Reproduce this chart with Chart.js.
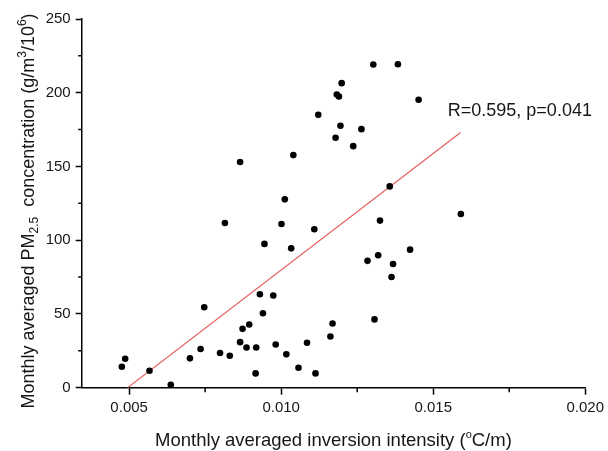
<!DOCTYPE html>
<html>
<head>
<meta charset="utf-8">
<script src="https://cdn.jsdelivr.net/npm/chart.js@4.4.1/dist/chart.umd.min.js"></script>
<style>
  html, body { margin: 0; padding: 0; background: #fff; }
  #wrap { width: 608px; height: 451px; }
</style>
</head>
<body>
<div id="wrap"><canvas id="c" width="608" height="451"></canvas></div>
<script>
// ---- data ----
const xValues = [0.00476, 0.00487, 0.00567, 0.00637, 0.00700, 0.00735, 0.00747, 0.00799, 0.00831, 0.00815,
                 0.00865, 0.00865, 0.00873, 0.00886, 0.00895, 0.00916, 0.00918, 0.00930, 0.00940, 0.00945,
                 0.00974, 0.00982, 0.01001, 0.01012, 0.01017, 0.01033, 0.01040, 0.01057, 0.01085, 0.01109,
                 0.01113, 0.01122, 0.01162, 0.01169, 0.01179, 0.01183, 0.01190, 0.01195, 0.01199, 0.01237,
                 0.01264, 0.01284, 0.01303, 0.01307, 0.01319, 0.01325, 0.01357, 0.01363, 0.01368, 0.01384,
                 0.01424, 0.01452, 0.01591];
const yValues = [14.2, 19.6, 11.5, 2.0, 19.9, 26.2, 54.6, 23.5, 21.7, 111.7,
                 153.0, 30.9, 39.9, 27.3, 42.9, 9.7, 27.3, 63.4, 50.5, 97.5,
                 62.5, 29.3, 111.0, 127.7, 22.6, 94.5, 157.7, 13.5, 30.5, 107.4,
                 9.7, 185.0, 34.7, 43.5, 169.5, 198.8, 197.4, 177.6, 206.5, 163.8,
                 175.3, 86.0, 219.1, 46.3, 89.8, 113.3, 136.5, 75.1, 83.9, 219.3,
                 93.6, 195.2, 117.8];
const fitX = [0.00495, 0.0159];
const fitY = [0, 173];
const xTickValues = [0.005, 0.010, 0.015, 0.020];
const xTickLabels = ['0.005', '0.010', '0.015', '0.020'];
const xMinorTicks = [0.0075, 0.0125, 0.0175];
const yTickValues = [0, 50, 100, 150, 200, 250];
const yTickLabels = ['0', '50', '100', '150', '200', '250'];
const yMinorTicks = [25, 75, 125, 175, 225];
const statText = 'R=0.595, p=0.041';
const statPos = { x: 0.01548, y: 184.2 };

const FONT = "'Liberation Sans', Arial, sans-serif";
const TXT = '#161616';

const points = xValues.map((x, i) => ({ x: x, y: yValues[i] }));
const fitLine = fitX.map((x, i) => ({ x: x, y: fitY[i] }));

function drawRich(ctx, segs, base) {
  let w = 0;
  segs.forEach(s => { ctx.font = (s.size || base) + 'px ' + FONT; s.w = ctx.measureText(s.t).width; w += s.w; });
  let x = -w / 2;
  segs.forEach(s => {
    ctx.font = (s.size || base) + 'px ' + FONT;
    ctx.fillText(s.t, x, s.dy || 0);
    x += s.w;
  });
}

const decor = {
  id: 'decor',
  afterDraw(chart) {
    const ctx = chart.ctx;
    const xs = chart.scales.x, ys = chart.scales.y;
    const area = chart.chartArea;
    ctx.save();
    // minor ticks
    ctx.strokeStyle = '#000';
    ctx.lineWidth = 1.5;
    ctx.beginPath();
    xMinorTicks.forEach(v => {
      const px = xs.getPixelForValue(v);
      ctx.moveTo(px, area.bottom);
      ctx.lineTo(px, area.bottom + 4.5);
    });
    yMinorTicks.forEach(v => {
      const py = ys.getPixelForValue(v);
      ctx.moveTo(area.left, py);
      ctx.lineTo(area.left - 3.5, py);
    });
    ctx.stroke();

    ctx.fillStyle = TXT;
    ctx.textBaseline = 'alphabetic';
    ctx.textAlign = 'left';
    // stat text
    ctx.font = '18px ' + FONT;
    ctx.fillText(statText, xs.getPixelForValue(statPos.x), ys.getPixelForValue(statPos.y));

    // x title
    ctx.save();
    ctx.translate((area.left + area.right) / 2, 445.5);
    drawRich(ctx, [
      { t: 'Monthly averaged inversion intensity (' },
      { t: 'o', size: 11, dy: -8 },
      { t: 'C/m)' }
    ], 18.5);
    ctx.restore();

    // y title
    ctx.save();
    ctx.translate(34, 211);
    ctx.rotate(-Math.PI / 2);
    drawRich(ctx, [
      { t: 'Monthly averaged PM' },
      { t: '2.5', size: 12, dy: 4 },
      { t: '  concentration (g/m' },
      { t: '3', size: 12, dy: -8 },
      { t: '/10' },
      { t: '6', size: 12, dy: -8 },
      { t: ')' }
    ], 18);
    ctx.restore();
    ctx.restore();
  }
};

new Chart(document.getElementById('c'), {
  type: 'scatter',
  data: {
    datasets: [
      {
        data: points,
        backgroundColor: '#000',
        borderColor: '#000',
        borderWidth: 0,
        pointRadius: 3.3,
        pointHoverRadius: 3.3,
        clip: false
      },
      {
        data: fitLine,
        showLine: true,
        borderColor: '#e65a5a',
        borderWidth: 1.1,
        pointRadius: 0,
        fill: false
      }
    ]
  },
  options: {
    responsive: false,
    animation: false,
    devicePixelRatio: 1,
    events: [],
    layout: { padding: { left: 0, right: 21.3, top: 19, bottom: 0 } },
    plugins: { legend: { display: false }, tooltip: { enabled: false }, title: { display: false } },
    scales: {
      x: {
        type: 'linear',
        position: 'bottom',
        min: 0.00344,
        max: 0.020,
        border: { display: true, color: '#000', width: 1.5 },
        grid: { display: true, drawOnChartArea: false, drawTicks: true, tickLength: 7, tickColor: '#000', tickWidth: 1.5 },
        ticks: {
          font: { family: FONT, size: 15 },
          color: TXT,
          padding: 4,
          maxRotation: 0,
          autoSkip: false,
          callback: function (v) {
            const i = xTickValues.findIndex(t => Math.abs(t - v) < 1e-9);
            return i >= 0 ? xTickLabels[i] : '';
          }
        },
        afterBuildTicks: function (scale) { scale.ticks = xTickValues.map(v => ({ value: v })); },
        afterFit: function (scale) { scale.height = 451 - 387.7; }
      },
      y: {
        type: 'linear',
        position: 'left',
        min: 0,
        max: 250,
        border: { display: true, color: '#000', width: 1.5 },
        grid: { display: true, drawOnChartArea: false, drawTicks: true, tickLength: 6, tickColor: '#000', tickWidth: 1.5 },
        ticks: {
          font: { family: FONT, size: 15 },
          color: TXT,
          padding: 5,
          autoSkip: false,
          callback: function (v) {
            const i = yTickValues.indexOf(v);
            return i >= 0 ? yTickLabels[i] : '';
          }
        },
        afterBuildTicks: function (scale) { scale.ticks = yTickValues.map(v => ({ value: v })); },
        afterFit: function (scale) { scale.width = 81.7; }
      }
    }
  },
  plugins: [decor]
});
</script>
</body>
</html>
